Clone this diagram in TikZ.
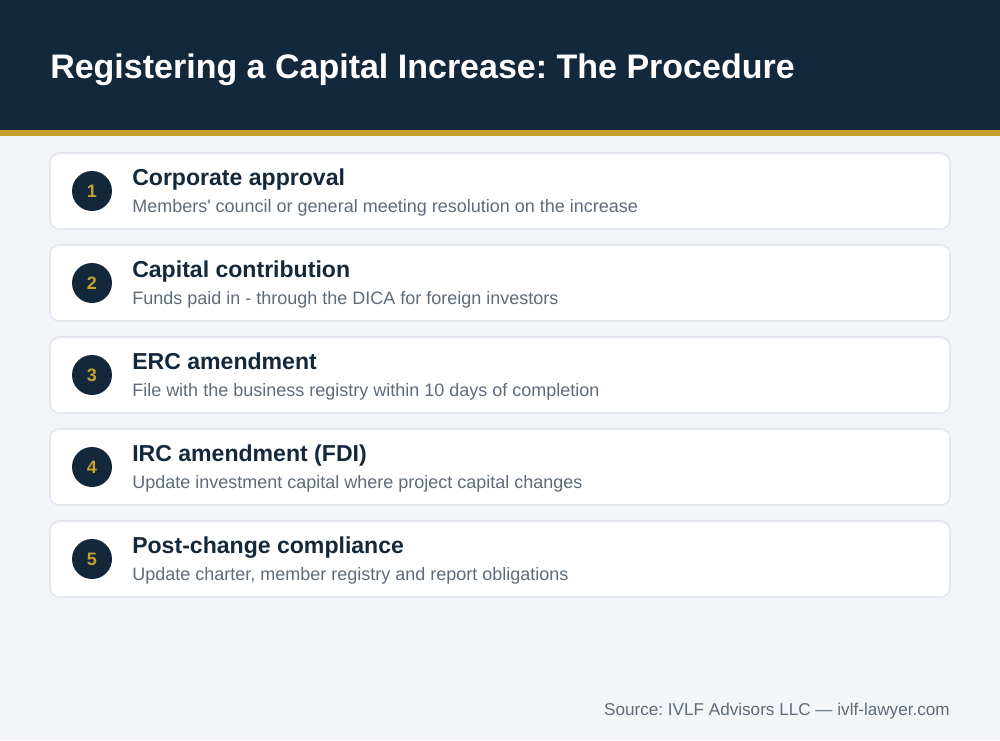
\documentclass[tikz,border=0pt]{standalone}
\usepackage{fontspec}
\setmainfont{Liberation Sans}[Ligatures=TeXOff]
\frenchspacing
\definecolor{navy}{HTML}{14283C}
\definecolor{gold}{HTML}{C9A02C}
\definecolor{pagebg}{HTML}{F4F5F9}
\definecolor{cardline}{HTML}{E2E6EE}
\definecolor{subgray}{HTML}{5F6B7A}
\tikzset{
  card/.style = {fill = white, draw = cardline, line width = 1.2pt, rounded corners = 7pt},
  stepnum/.style = {circle, fill = navy, text = gold, minimum size = 30pt, inner sep = 0pt, font = \fontsize{13.5}{16}\selectfont\bfseries},
  steptitle/.style = {anchor = base west, inner sep = 0pt, text = navy, font = \fontsize{17.3}{20}\selectfont\bfseries},
  stepsub/.style = {anchor = base west, inner sep = 0pt, text = subgray, font = \fontsize{13.5}{16}\selectfont}
}
\begin{document}
\begin{tikzpicture}[x = 0.75pt, y = -0.75pt]
\useasboundingbox (0,0) rectangle (1000,740);
\fill[pagebg] (0,0) rectangle (1000,740);
% header
\fill[navy] (0,0) rectangle (1000,130);
\fill[gold] (0,130) rectangle (1000,136);
\node[anchor = base west, inner sep = 0pt, text = white, font = \fontsize{25.5}{28}\selectfont\bfseries] (title) at (50,78) {Registering a Capital Increase: The Procedure};
% steps
\pgfmathsetmacro\gap{92};
\foreach \n/\head/\sub in {
  1/Corporate approval/Members' council or general meeting resolution on the increase,
  2/Capital contribution/Funds paid in - through the DICA for foreign investors,
  3/ERC amendment/File with the business registry within 10 days of completion,
  4/IRC amendment (FDI)/Update investment capital where project capital changes,
  5/Post-change compliance/{Update charter, member registry and report obligations}} {
  \pgfmathsetmacro\top{153+\gap*(\n-1)};
  \draw[card] (50,\top) rectangle (950,\top+76);
  \node[stepnum] (num\n) at (92,\top+38) {\n};
  \node[steptitle] (head\n) at (132,\top+32) {\head};
  \node[stepsub] (sub\n) at (132,\top+59) {\sub};
}
% footer
\node[anchor = base east, inner sep = 0pt, text = subgray, font = \fontsize{12.85}{15}\selectfont] (source) at (950,715) {Source: IVLF Advisors LLC — ivlf-lawyer.com};
\end{tikzpicture}
\end{document}
